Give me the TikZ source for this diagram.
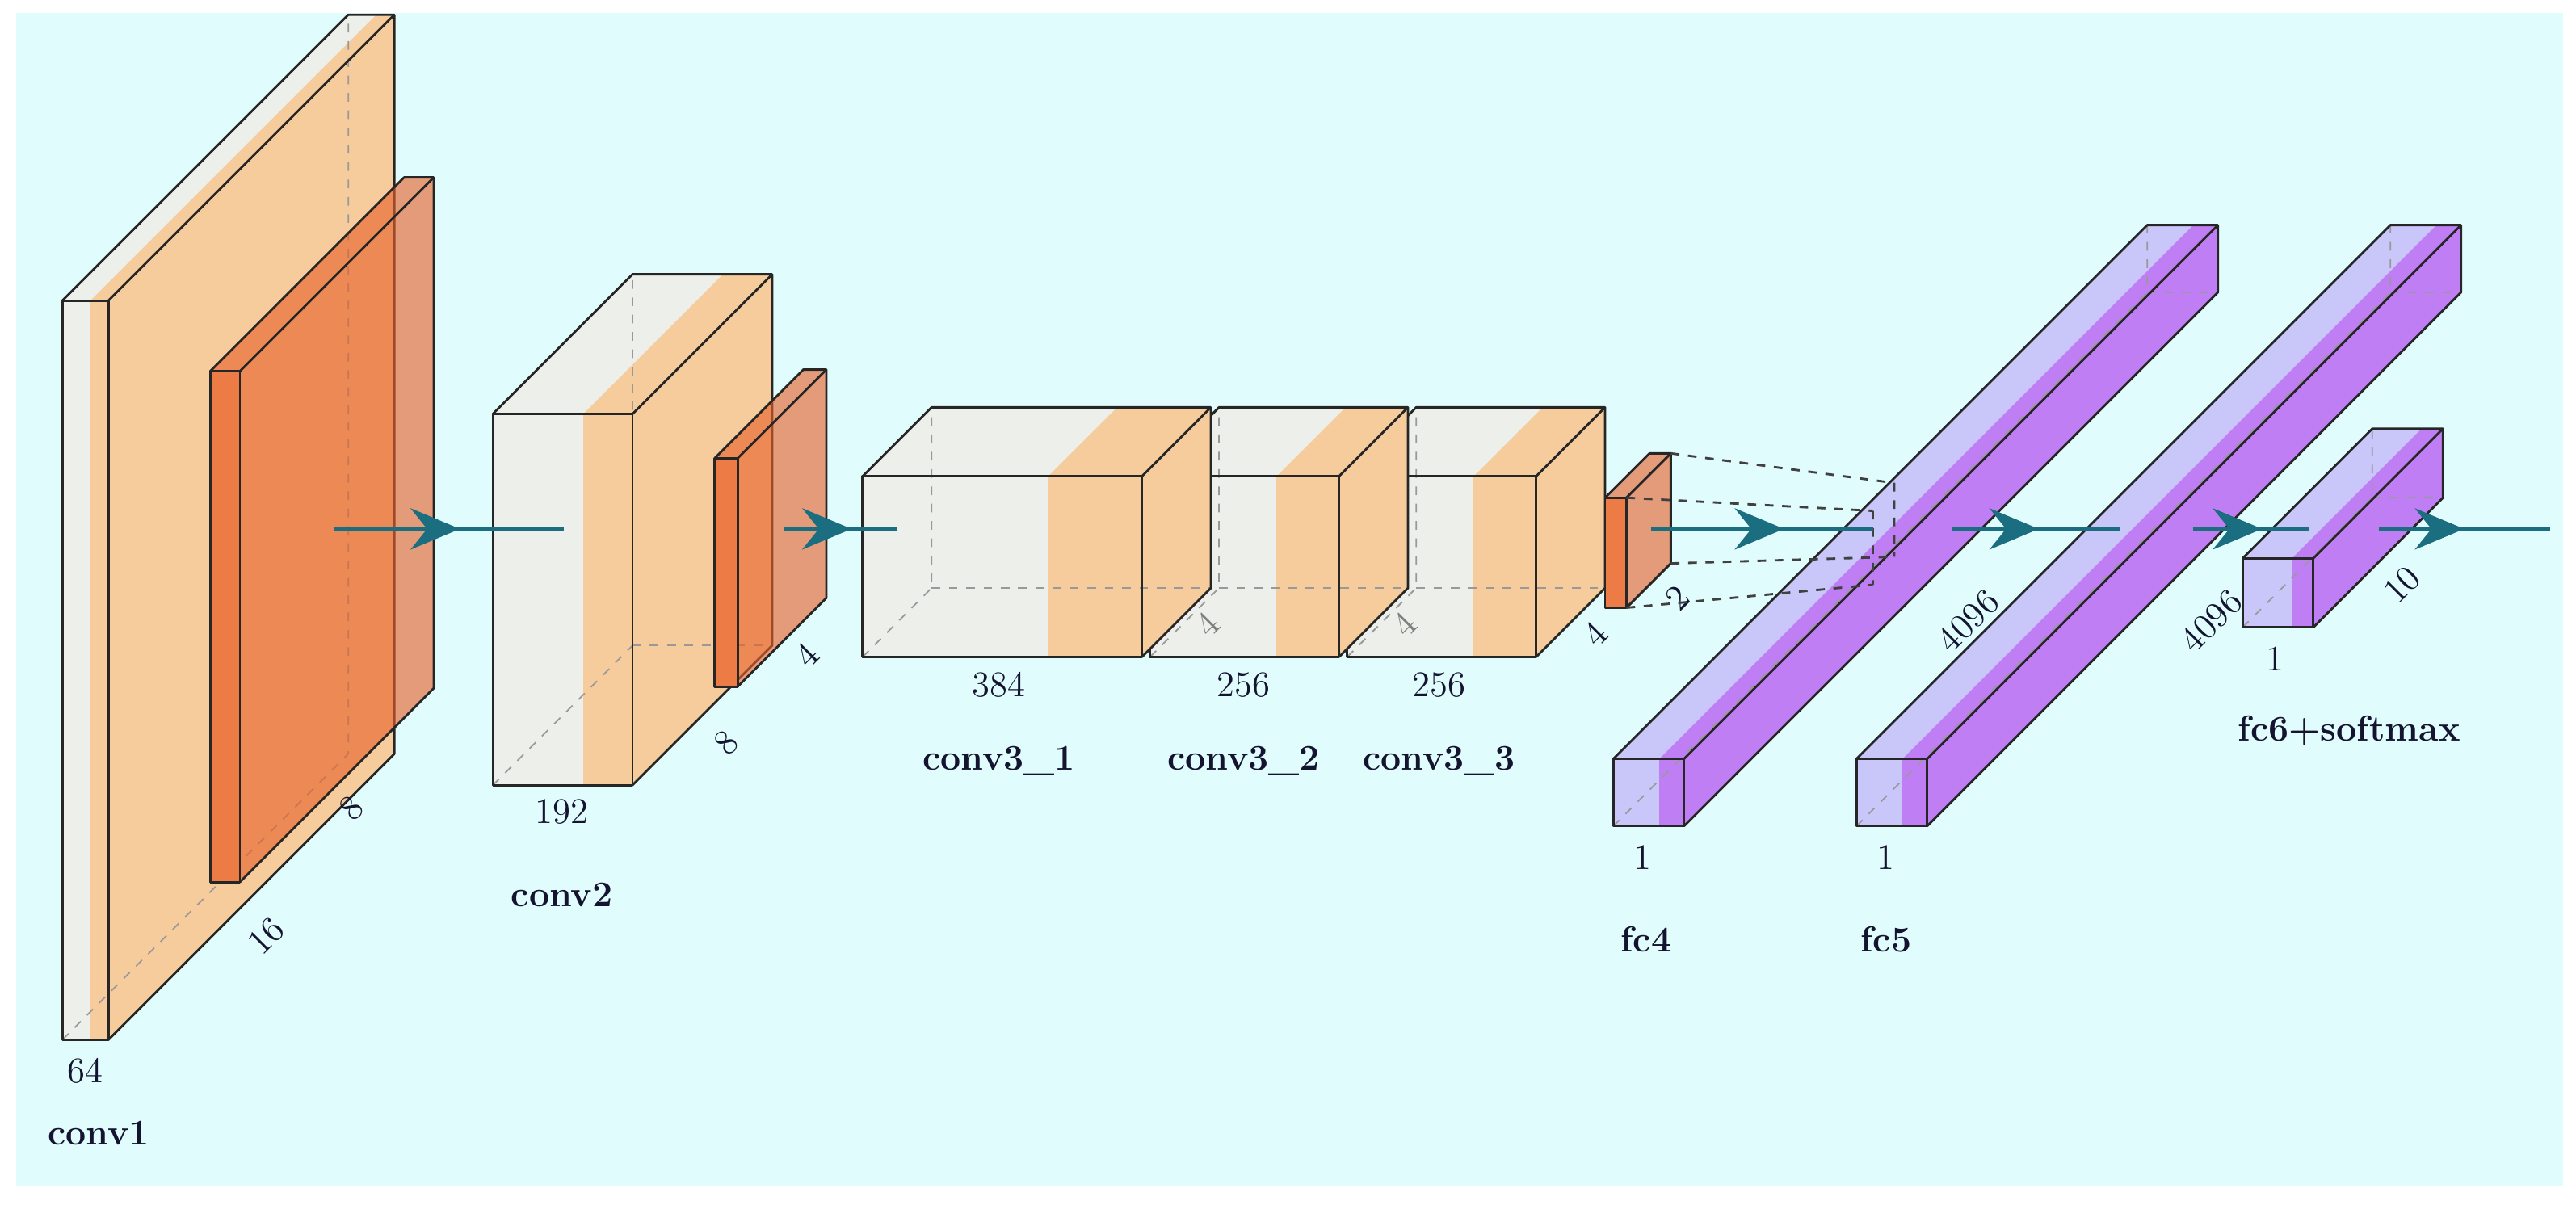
\documentclass[tikz,border=0pt]{standalone}
\usetikzlibrary{arrows.meta,decorations.markings}
\definecolor{bg}{HTML}{E0FCFC}
\definecolor{cwhite}{HTML}{ECEFEA}
\definecolor{corange}{HTML}{F6CC9C}
\definecolor{pfront}{HTML}{EC7B45}
\definecolor{pside}{HTML}{E8602A}
\definecolor{flav}{HTML}{C9C6FA}
\definecolor{fpurp}{HTML}{C07EF5}
\definecolor{arr}{HTML}{1A6E80}
\definecolor{txt}{HTML}{141430}
\tikzset{
 edge/.style={draw=black!85,line width=0.8pt,line join=round},
 hid/.style={draw=gray!80,dashed,line width=0.5pt},
 lab/.style={text=txt,font=\fontsize{12.5}{14}\selectfont},
 blab/.style={text=txt,font=\fontsize{12.5}{14}\selectfont\bfseries},
 flow/.style={draw=arr,line width=1.8pt,postaction={decorate},
   decoration={markings,mark=at position #1 with {\arrow[arr]{Stealth[length=6mm,width=5mm,inset=2mm]}}}},
 flow/.default=0.55
}
\newcommand\cube[8]{%
 \fill[#7] (#1,#2) rectangle ++(#6,#4);
 \fill[#8] (#1+#6,#2) rectangle (#1+#3,#2+#4);
 \fill[#7] (#1,#2) -- ++(#6,0) -- ++(#5,-#5) -- ++(-#6,0) -- cycle;
 \fill[#8] (#1+#6,#2) -- (#1+#3,#2) -- ++(#5,-#5) -- (#1+#6+#5,#2-#5) -- cycle;
 \fill[#8] (#1+#3,#2) -- ++(0,#4) -- ++(#5,-#5) -- ++(0,-#4) -- cycle;
 \draw[hid] (#1,#2+#4) -- ++(#5,-#5) -- ++(0,-#4);
 \draw[hid] (#1+#5,#2+#4-#5) -- ++(#3,0);
 \draw[edge] (#1,#2) rectangle ++(#3,#4);
 \draw[edge] (#1,#2) -- ++(#5,-#5) -- ++(#3,0) -- ++(0,#4) -- ++(-#5,#5);
 \draw[edge] (#1+#3,#2) -- ++(#5,-#5);
}
\newcommand\pool[5]{%
 \fill[pfront] (#1,#2) rectangle ++(#3,#4);
 \fill[pside,fill opacity=0.62] (#1,#2) -- ++(#3,0) -- ++(#5,-#5) -- ++(-#3,0) -- cycle;
 \fill[pside,fill opacity=0.62] (#1+#3,#2) -- ++(0,#4) -- ++(#5,-#5) -- ++(0,-#4) -- cycle;
 \draw[edge] (#1,#2) rectangle ++(#3,#4);
 \draw[edge] (#1,#2) -- ++(#5,-#5) -- ++(#3,0) -- ++(0,#4) -- ++(-#5,#5);
 \draw[edge] (#1+#3,#2) -- ++(#5,-#5);
}
\begin{document}
\begin{tikzpicture}[x=0.2mm,y=-0.2mm]
\useasboundingbox (0,0) rectangle (1568,733.6);
\fill[white] (0,0) rectangle (1568,733.6);
\fill[bg] (10,8) rectangle (1560,722);

% conv1 + pool1
\cube{38}{183}{28}{450}{174}{17}{cwhite}{corange}
\pool{128}{226}{18}{311}{118}
\node[lab] (n64) at (52,652) {64};
\node[blab] (lc1) at (60,690) {conv1};
\node[lab,rotate=45] (n16) at (162,570) {16};
\node[lab,rotate=45] (n8a) at (214,492) {8};

% conv2 + pool2
\cube{300}{252}{85}{226}{85}{55}{cwhite}{corange}
\pool{435}{279}{14}{139}{54}
\node[lab] (n192) at (342,494) {192};
\node[blab] (lc2) at (342,545) {conv2};
\node[lab,rotate=45] (n8b) at (442,452) {8};
\node[lab,rotate=45] (n4a) at (491,399) {4};

% conv3
\cube{820}{290}{115}{110}{42}{77}{cwhite}{corange}
\cube{700}{290}{115}{110}{42}{77}{cwhite}{corange}
\cube{525}{290}{170}{110}{42}{113}{cwhite}{corange}
\pool{977}{303}{13}{67}{27}
\node[lab] (n384) at (608,417) {384};
\node[blab] (lc31) at (608,463) {conv3\_1};
\node[lab] (n256a) at (757,417) {256};
\node[blab] (lc32) at (757,463) {conv3\_2};
\node[lab] (n256b) at (876,417) {256};
\node[blab] (lc33) at (876,463) {conv3\_3};
\node[lab,text=gray,rotate=45] (g4a) at (735,380) {4};
\node[lab,text=gray,rotate=45] (g4b) at (855,380) {4};
\node[lab,rotate=45] (n4b) at (971,386) {4};
\node[lab,rotate=45] (n2) at (1021,364) {2};

% fc layers
\cube{982}{462}{43}{41}{325}{28}{flav}{fpurp}
\cube{1130}{462}{43}{41}{325}{28}{flav}{fpurp}
\cube{1365}{340}{43}{42}{79}{30}{flav}{fpurp}
\node[lab] (n1a) at (1000,522) {1};
\node[blab] (lf4) at (1002,572) {fc4};
\node[lab,rotate=45] (n4096a) at (1198,378) {4096};
\node[lab] (n1b) at (1148,522) {1};
\node[blab] (lf5) at (1148,572) {fc5};
\node[lab,rotate=45] (n4096b) at (1346,378) {4096};
\node[lab] (n1c) at (1385,401) {1};
\node[blab] (lf6) at (1430,445) {fc6+softmax};
\node[lab,rotate=45] (n10) at (1462,356) {10};

% projection lines
\coordinate (p1) at (1017,276); \coordinate (p2) at (990,303);
\coordinate (p3) at (1017,343); \coordinate (p4) at (990,370);
\coordinate (q1) at (1153,294); \coordinate (q2) at (1140,311);
\coordinate (q3) at (1153,339); \coordinate (q4) at (1140,356);
\draw[dashed,line width=0.8pt,draw=black!75] (p1) -- (q1) (p2) -- (q2) (p3) -- (q3) (p4) -- (q4) (q1) -- (q3) (q2) -- (q4);

% arrows
\coordinate (a1s) at (203,322); \coordinate (a1e) at (343,322);
\coordinate (a2s) at (477,322); \coordinate (a2e) at (546,322);
\coordinate (a3s) at (1005,322); \coordinate (a3e) at (1140,322);
\coordinate (a4s) at (1188,322); \coordinate (a4e) at (1290,322);
\coordinate (a5s) at (1335,322); \coordinate (a5e) at (1405,322);
\coordinate (a6s) at (1448,322); \coordinate (a6e) at (1552,322);
\draw[flow=0.55] (a1s) -- (a1e);
\draw[flow=0.6] (a2s) -- (a2e);
\draw[flow=0.6] (a3s) -- (a3e);
\draw[flow=0.52] (a4s) -- (a4e);
\draw[flow=0.6] (a5s) -- (a5e);
\draw[flow=0.5] (a6s) -- (a6e);
\end{tikzpicture}
\end{document}
